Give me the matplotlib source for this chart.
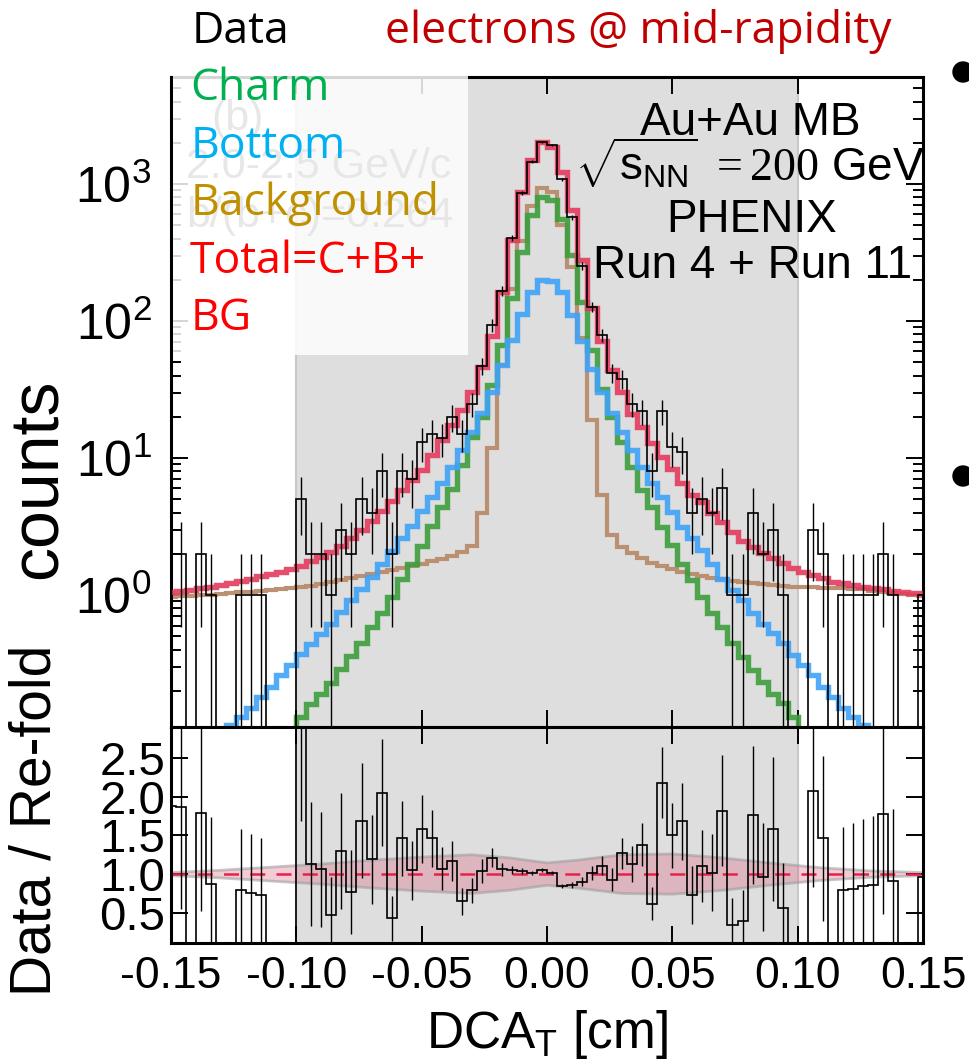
import numpy as np
import matplotlib
matplotlib.use("Agg")
import matplotlib.pyplot as plt
from matplotlib.patches import Rectangle, Ellipse
from matplotlib.ticker import LogLocator, NullLocator, NullFormatter, FormatStrFormatter

# DCA_T bin edges (cm): 0.004 cm bins, edges on multiples of 0.004
edges = np.linspace(-0.152, 0.152, 77)

# re-folded model components (counts per bin)
total = [1.05, 1.07, 1.09, 1.12, 1.15, 1.19, 1.23, 1.27, 1.32, 1.37,
         1.42, 1.48, 1.55, 1.64, 1.76, 1.90, 2.05, 2.30, 2.6, 3.0,
         3.5, 4.1, 4.9, 5.8, 6.9, 8.2, 10.5, 13.5, 17.4, 22.4,
         30.5, 46, 78, 162, 390, 879, 1497, 2010, 1870, 1230,
         646, 279, 124, 71, 44, 30.5, 21, 16.9, 12.9, 10.2,
         8.3, 6.6, 5.4, 4.8, 4.0, 3.4, 2.9, 2.5, 2.25, 2.03,
         1.86, 1.71, 1.57, 1.48, 1.40, 1.33, 1.25, 1.22, 1.18, 1.15,
         1.12, 1.10, 1.075, 1.06, 1.04, 1.03]
charm = [0.012, 0.015, 0.019, 0.024, 0.030, 0.037, 0.045, 0.055, 0.065, 0.075,
         0.085, 0.095, 0.105, 0.13, 0.16, 0.19, 0.23, 0.29, 0.36, 0.45,
         0.59, 0.74, 0.97, 1.3, 1.7, 2.3, 3.2, 4.4, 5.9, 8.9,
         14.3, 20, 34, 66.6, 147, 320, 594, 807, 760, 560,
         302, 138, 61.5, 32, 20, 13.1, 8.6, 5.84, 4.41, 3.15,
         2.32, 1.70, 1.29, 0.97, 0.735, 0.587, 0.444, 0.355, 0.284, 0.233,
         0.19, 0.162, 0.13, 0.10, 0.08, 0.065, 0.052, 0.042, 0.034, 0.027,
         0.022, 0.018, 0.015, 0.012, 0.010, 0.008]
bottom = [0.035, 0.042, 0.05, 0.06, 0.072, 0.09, 0.112, 0.13, 0.15, 0.18,
          0.215, 0.26, 0.31, 0.37, 0.44, 0.52, 0.62, 0.75, 0.92, 1.1,
          1.35, 1.7, 2.1, 2.6, 3.2, 4.1, 5.2, 6.6, 8.6, 11.5,
          15.6, 21.2, 30.5, 47.5, 72.7, 113, 164, 198, 196, 164,
          110, 71, 45, 30.5, 21.2, 15.6, 11.4, 8.6, 6.56, 5.2,
          4.05, 3.15, 2.59, 2.13, 1.70, 1.32, 1.09, 0.92, 0.735, 0.62,
          0.525, 0.444, 0.365, 0.308, 0.26, 0.214, 0.181, 0.149, 0.13, 0.112,
          0.09, 0.075, 0.062, 0.051, 0.042, 0.035]
background = [0.97, 0.98, 0.99, 1.0, 1.01, 1.02, 1.04, 1.05, 1.06, 1.08,
              1.09, 1.11, 1.12, 1.14, 1.17, 1.2, 1.24, 1.29, 1.34, 1.39,
              1.43, 1.48, 1.52, 1.57, 1.63, 1.69, 1.76, 1.84, 1.93, 2.05,
              2.3, 3.97, 11.8, 48, 170, 385, 690, 930, 880, 500,
              250, 75, 18.9, 5.4, 2.74, 2.25, 2.03, 1.86, 1.72, 1.63,
              1.54, 1.48, 1.42, 1.38, 1.34, 1.30, 1.27, 1.24, 1.22, 1.20,
              1.18, 1.17, 1.15, 1.15, 1.14, 1.13, 1.12, 1.12, 1.11, 1.10,
              1.08, 1.06, 1.04, 1.02, 1.0, 0.99]
data = [2, 2, 0, 2, 1, 0, 0, 1, 1, 1,
        0, 0, 0, 5, 2, 2, 1, 3, 2, 5,
        4, 8, 2, 8, 7, 13, 15, 14, 20, 15,
        25, 47, 93, 166, 403, 866, 1450, 2030, 1930, 1080,
        570, 253, 127, 79, 42, 38, 25, 22, 8, 22,
        12, 11, 4, 5, 4, 6, 1, 1, 4, 2,
        3, 1, 0, 0, 3, 2, 0, 1, 1, 1,
        1, 2, 1, 0, 0, 1]
ratio = [1.88, 1.87, 0, 1.79, 0.87, 0, 0, 0.79, 0.76, 0.73,
         0, 0, 0, 3.05, 1.13, 1.06, 0.47, 1.30, 0.77, 1.69,
         1.19, 2.05, 0.43, 1.46, 1.05, 1.58, 1.46, 1.07, 1.17, 0.65,
         0.79, 1.04, 1.21, 1.06, 1.05, 1.04, 1.02, 1.05, 1.02, 0.85,
         0.86, 0.90, 1.02, 1.11, 0.93, 1.27, 1.13, 1.38, 0.62, 2.18,
         1.50, 1.68, 0.73, 1.10, 1.02, 1.82, 0.34, 0.39, 1.76, 0.96,
         1.58, 0.56, 0, 0, 2.07, 1.46, 0, 0.79, 0.81, 0.84,
         0.86, 1.77, 0.91, 0, 0, 0.96]

# systematic band on the ratio (half width vs DCA_T)
band_x = [-0.15, -0.13, -0.11, -0.09, -0.07, -0.05, -0.03, -0.015, 0.0,
          0.012, 0.03, 0.05, 0.07, 0.09, 0.11, 0.13, 0.15]
band_hw = [0.02, 0.05, 0.09, 0.13, 0.18, 0.22, 0.25, 0.21, 0.145,
           0.18, 0.25, 0.26, 0.21, 0.14, 0.08, 0.04, 0.02]

RED = "#e33b5c"
GREEN = "#3d9e3d"
BLUE = "#3fa3f7"
BROWN = "#b98b6b"

plt.rcParams.update({
    "font.family": "Liberation Sans",
    "mathtext.fontset": "custom",
    "mathtext.rm": "Liberation Serif",
    "mathtext.sf": "Liberation Sans",
    "mathtext.it": "Liberation Sans:italic",
    "mathtext.default": "regular",
    "axes.linewidth": 2.2,
})

W, H = 969, 1061
fig = plt.figure(figsize=(W / 100, H / 100), dpi=100)
L, R = 171 / W, 923 / W
ax1 = fig.add_axes([L, 1 - 727 / H, R - L, (727 - 77) / H])
ax2 = fig.add_axes([L, 1 - 943 / H, R - L, (943 - 727) / H], sharex=ax1)

centers = 0.5 * (edges[:-1] + edges[1:])
data = np.array(data, dtype=float)
total_a = np.array(total)
err = np.sqrt(data)

# ---- upper panel
for ax in (ax1, ax2):
    ax.axvspan(-0.1, 0.1, facecolor="#dedede", edgecolor="none", zorder=0.5)
    for xv in (-0.1, 0.1):
        ax.axvline(xv, color="#c8c8c8", lw=1.5, zorder=0.6)

ax1.set_yscale("log")
ax1.stairs(background, edges, baseline=None, color=BROWN, lw=3.0, alpha=0.95, zorder=2)
ax1.stairs(charm, edges, baseline=None, color=GREEN, lw=3.9, alpha=0.9, zorder=3)
ax1.stairs(bottom, edges, baseline=None, color=BLUE, lw=3.9, alpha=0.9, zorder=4)
ax1.stairs(total, edges, baseline=None, color=RED, lw=3.9, alpha=0.9, zorder=5)
ax1.stairs(np.where(data > 0, data, 1e-3), edges, baseline=None, color="black", lw=1.2, zorder=6)
m = data > 0
ax1.vlines(centers[m], np.maximum(data[m] - err[m], 1e-3), data[m] + err[m],
           color="black", lw=1.0, zorder=6)

ax1.set_xlim(-0.15, 0.15)
ax1.set_ylim(0.109, 6040)
ax1.yaxis.set_major_locator(LogLocator(base=10, numticks=10))
ax1.yaxis.set_minor_locator(LogLocator(base=10, subs=np.arange(2, 10), numticks=20))
ax1.yaxis.set_minor_formatter(NullFormatter())

# ---- ratio panel
bx = np.array(band_x)
bh = np.array(band_hw)
ax2.fill_between(bx, 1 - bh, 1 + bh, facecolor=(0.86, 0.35, 0.47, 0.3),
                 edgecolor="none", zorder=1)
ax2.plot(bx, 1 + bh, color="#9a9a9a", lw=2, alpha=0.55, zorder=1.1)
ax2.plot(bx, 1 - bh, color="#9a9a9a", lw=2, alpha=0.55, zorder=1.1)
ax2.axhline(1.0, color="#e8204a", lw=1.8, dashes=(6, 4.5), zorder=2)
ax2.stairs(ratio, edges, baseline=None, color="black", lw=1.2, zorder=3)
rerr = err / total_a
ratio_a = np.array(ratio)
ax2.vlines(centers[m], ratio_a[m] - rerr[m], ratio_a[m] + rerr[m], color="black", lw=1.0, zorder=3)
ax2.set_ylim(0.11, 2.9)
ax2.set_yticks([0.5, 1.0, 1.5, 2.0, 2.5])
ax2.yaxis.set_major_formatter(FormatStrFormatter("%.1f"))
ax2.set_xticks([-0.15, -0.10, -0.05, 0.0, 0.05, 0.10, 0.15])
ax2.xaxis.set_major_formatter(FormatStrFormatter("%.2f"))
ax2.yaxis.set_minor_locator(NullLocator())
ax2.xaxis.set_minor_locator(NullLocator())

for ax in (ax1, ax2):
    ax.tick_params(which="both", direction="in", top=True, right=True, width=1.4)
    ax.tick_params(which="major", length=12)
    ax.tick_params(which="minor", length=7)
ax1.tick_params(axis="x", labelbottom=False)
ax1.tick_params(axis="y", which="major", labelsize=36, pad=14)
ax2.tick_params(axis="x", labelsize=32, pad=9)
ax2.tick_params(axis="y", labelsize=34, pad=4)

# axis titles
fig.text(57 / W, 1 - 479 / H, "counts", rotation=90, rotation_mode="anchor",
         ha="center", va="baseline", fontsize=49)
fig.text(51 / W, 1 - 820 / H, "Data / Re-fold", rotation=90, rotation_mode="anchor",
         ha="center", va="baseline", fontsize=41)
fig.text(547 / W, 1 - 1048 / H, r"DCA$_{\mathsf{T}}$ [cm]", ha="center", va="baseline",
         fontsize=37)

# faint original panel labels, then the slide's white legend box over them
faint = dict(color="#707070", fontsize=31, transform=fig.transFigure, clip_on=False, zorder=7)
ax1.text(238 / W, 1 - 130 / H, "(b)", ha="center", va="baseline", **faint)
ax1.text(186 / W, 1 - 178 / H, "2.0-2.5 GeV/c", ha="left", va="baseline", **faint)
ax1.text(186 / W, 1 - 227 / H, "b/(b+c)=0.264", ha="left", va="baseline", **faint)
fig.add_artist(Rectangle((173 / W, 1 - 355 / H), (468 - 173) / W, (355 - 72) / H,
                         transform=fig.transFigure, facecolor="white", alpha=0.84,
                         edgecolor="none", zorder=1))

# physics label block
phys = dict(fontsize=33, ha="center", va="baseline", color="black")
fig.text(750 / W, 1 - 135 / H, "Au+Au MB", **phys)
fig.text(750 / W, 1 - 180 / H, r"$\sqrt{\mathsf{s}_{\mathsf{NN}}}$ $\mathrm{=200}$ GeV", **phys)
fig.text(752 / W, 1 - 232 / H, "PHENIX", **phys)
fig.text(753 / W, 1 - 278 / H, "Run 4 + Run 11", **phys)

# slide legend text
leg = dict(fontsize=32, family="Open Sans", ha="left", va="baseline")
fig.text(192 / W, 1 - 43 / H, "Data", color="black", **leg)
fig.text(190 / W, 1 - 100 / H, "Charm", color="#00b050", **leg)
fig.text(191 / W, 1 - 158 / H, "Bottom", color="#00b0f0", **leg)
fig.text(191 / W, 1 - 215 / H, "Background", color="#bf9000", **leg)
fig.text(190 / W, 1 - 273 / H, "Total=C+B+", color="#ff0000", **leg)
fig.text(191 / W, 1 - 330 / H, "BG", color="#ff0000", **leg)
fig.text(385 / W, 1 - 43 / H, "electrons @ mid-rapidity", color="#c00000", **leg)

# slide bullets at the right edge
for yb in (72, 476):
    fig.add_artist(Ellipse((963 / W, 1 - yb / H), 20 / W, 20 / H,
                           transform=fig.transFigure, color="black", zorder=5))

fig.savefig("out.png", dpi=100)
